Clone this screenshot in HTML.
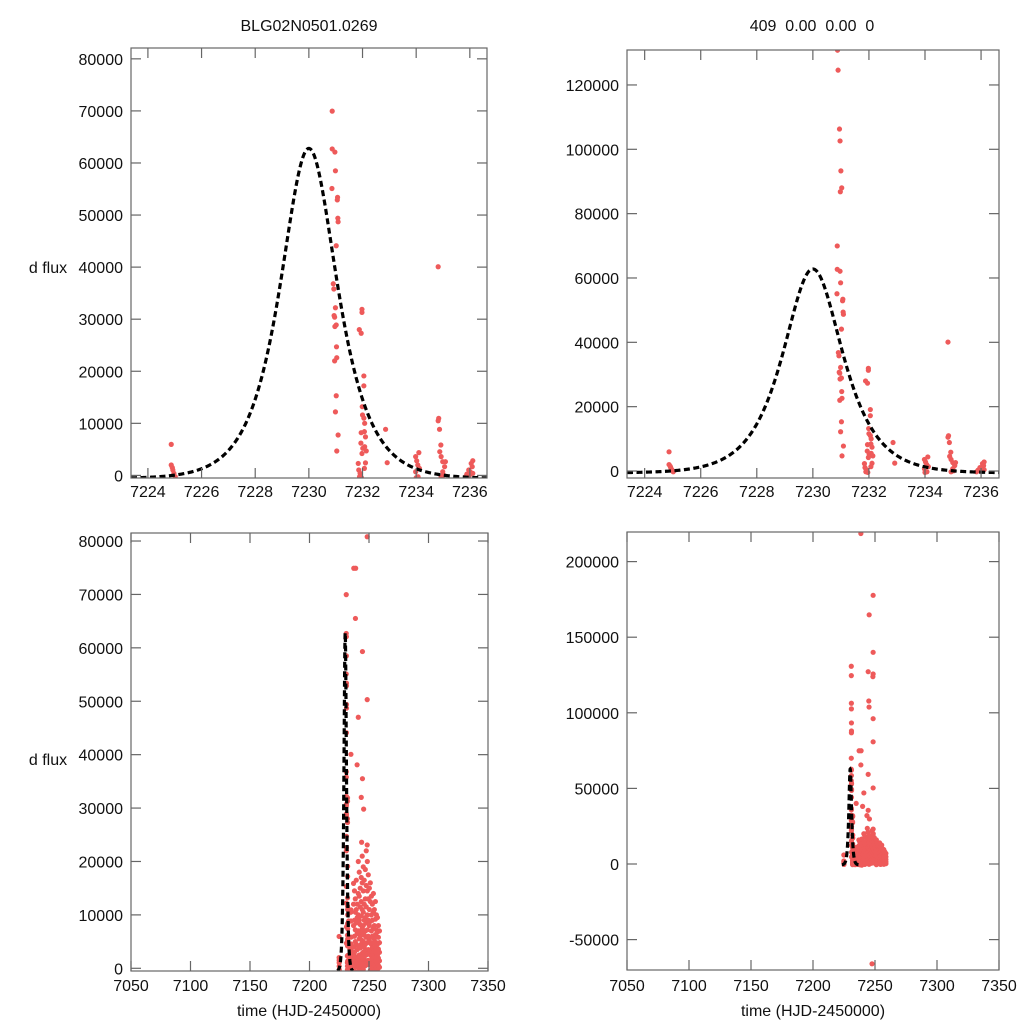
<!DOCTYPE html>
<html><head><meta charset="utf-8"><style>
html,body{margin:0;padding:0;background:#fff;width:1024px;height:1024px;overflow:hidden;}
svg{display:block;}
svg text{font-family:"Liberation Sans",sans-serif;font-size:16px;fill:#111;}
</style></head><body>
<svg id="chart" width="1024" height="1024" xmlns="http://www.w3.org/2000/svg">
<rect width="1024" height="1024" fill="#fff"/>
<text x="309" y="31" text-anchor="middle">BLG02N0501.0269</text>
<text x="812" y="31" text-anchor="middle" xml:space="preserve">409  0.00  0.00  0</text>
<text x="48" y="273" text-anchor="middle">d flux</text>
<text x="48" y="765" text-anchor="middle">d flux</text>
<text x="309" y="1016" text-anchor="middle">time (HJD-2450000)</text>
<text x="813" y="1016" text-anchor="middle">time (HJD-2450000)</text>
</svg>
<script>
// observations
const obsTime = [
7224.87,7224.87,7224.93,7224.97,7225.02,7224.91,
7230.88,7230.90,7230.95,7230.97,7231.00,7231.03,7230.98,
7230.87,7230.87,7230.97,7230.99,7230.86,7231.07,7231.06,7231.08,7231.09,7231.02,7230.91,7230.93,7230.99,7230.94,7230.96,7231.02,7230.97,7231.03,7231.04,7230.96,7231.02,7230.99,7231.09,7231.04,
7231.98,7231.98,7231.88,7231.95,7232.05,7232.05,7231.99,7232.00,7232.05,7232.08,7231.95,7232.07,7232.11,7231.94,7232.08,7232.01,7232.14,7231.98,7231.84,7232.11,7232.07,7231.86,7231.91,7231.89,7231.96,
7232.86,7232.92,
7234.10,7233.98,7234.02,7234.06,7234.12,7233.98,7234.07,7234.00,
7234.82,7234.84,7234.82,7234.87,7234.92,7234.88,7234.93,7234.99,7235.09,7235.06,7234.99,7234.93,7235.02,
7236.11,7236.05,7236.09,7235.96,7236.01,7235.89,7235.99,7235.84,7236.11,
7238.6,7248.5,7245.3,7248.5,7244.5,7248.5,7248.3,7245.0,7245.2,7248.5,7248.5,7237.2,7238.8,7238.6,7244.5,7248.5,7241.0,7240.0,7244.5,7243.5,7245.5,7243.8,7248.5,7247.6
];
const obsFlux = [
5960,2000,1040,400,-250,1500,
130800,124600,106300,102600,93300,88000,86800,
69960,62700,62100,58500,55100,53400,52900,49400,48700,44100,36800,35800,32200,30700,30400,28900,28600,24700,22600,22000,15300,12200,7760,4690,
31900,31300,28000,27300,19100,17200,13200,11600,11000,10000,8200,8400,7400,6200,5500,5200,4700,4200,2300,2400,1350,1040,400,-250,-440,
8850,2440,
4370,3600,2800,2000,1350,700,-250,-440,
40070,10950,10500,8850,5840,4550,3600,2630,2630,1670,700,-250,70,
2820,2300,1670,1040,700,250,70,-250,400,
218600,177700,164800,140000,127200,125700,123900,107800,103800,96100,80800,74900,74900,65500,59300,50300,47000,38100,35500,32000,29800,23600,23100,-66000
];
// dense post-peak baseline groups
const groupTime = [7237.0,7237.8,7238.5,7239.3,7240.1,7241.0,7241.8,7242.6,7243.5,7244.3,7245.2,7246.0,7246.9,7247.7,7248.6,7249.4,7250.3,7251.1,7252.0,7252.8,7253.7,7254.5,7255.4,7256.2,7257.1,7257.9,7258.8];
const groupFlux = [
[15900,12000,8000,4000,1500,500],
[14500,9000,6000,3000,800,-500],
[13000,10500,7200,5000,2200,300],
[16500,11000,8500,4500,1200,-800],
[12000,9500,6500,3500,2000,600],
[20000,14000,10000,7000,4200,1800,200],
[18000,13500,9000,5500,2500,900,-300],
[15000,11500,8200,6000,3800,1500],
[17000,12500,9800,6800,4500,2100,400],
[21000,16000,11000,7500,5200,2800,800],
[19000,14500,10500,8000,5000,3000,1000,-200],
[16500,12000,9000,6200,3900,1700],
[18500,13000,9500,7000,4500,2400,500],
[22000,15500,11500,8500,5800,3300,1200],
[20000,14500,10000,7200,4800,2600,700],
[17500,13000,9000,6000,3500,1500],
[15000,11000,8000,5200,3000,900],
[16000,12500,8800,5800,3200,1400,-400],
[13500,10000,7000,4500,2300,600],
[12000,9000,6000,3800,1800,200],
[14000,10500,7500,4800,2600,900],
[11000,8000,5500,3200,1500,-300],
[12500,9200,6300,4000,2000,500],
[10000,7200,4800,2800,1200],
[9500,6800,4500,2500,900,-200],
[8000,5800,3600,1900,500],
[7000,4800,3000,1400,200]
];
// model parameters
const modelPeakTime = 7230.0;
const modelPeakFlux = 63400;
const modelWidth = 0.95;
const modelBase = -600;
const modelRange = [7223.37, 7236.64];
// tick labels
const xTicksZoom = [7224,7226,7228,7230,7232,7234,7236];
const xTicksWide = [7050,7100,7150,7200,7250,7300,7350];
const yTicksTL = [0,10000,20000,30000,40000,50000,60000,70000,80000];
const yTicksTR = [0,20000,40000,60000,80000,100000,120000];
const yTicksBL = [0,10000,20000,30000,40000,50000,60000,70000,80000];
const yTicksBR = [-50000,0,50000,100000,150000,200000];

const NS = 'http://www.w3.org/2000/svg';
const svg = document.getElementById('chart');
function mk(tag, attrs, parent){
  const e = document.createElementNS(NS, tag);
  for (const k in attrs) e.setAttribute(k, attrs[k]);
  (parent||svg).appendChild(e); return e;
}
const allT = [], allF = [];
for (let i=0;i<obsTime.length;i++){allT.push(obsTime[i]);allF.push(obsFlux[i]);}
for (let g=0; g<groupTime.length; g++) for (const f of groupFlux[g]){allT.push(groupTime[g]);allF.push(f);}

const panels = [
 {name:'top-left', x0:131,x1:487,y0:48,y1:478, xmin:7223.37,xmax:7236.64, yAt0:475.4, yPx:52.07/10000, xt:xTicksZoom, yt:yTicksTL, labY:497},
 {name:'top-right', x0:627,x1:999,y0:50,y1:478, xmin:7223.37,xmax:7236.64, yAt0:471, yPx:32.17/10000, xt:xTicksZoom, yt:yTicksTR, labY:497},
 {name:'bottom-left', x0:131,x1:488,y0:533,y1:971, xmin:7050,xmax:7350, yAt0:968.3, yPx:53.41/10000, xt:xTicksWide, yt:yTicksBL, labY:991},
 {name:'bottom-right', x0:627,x1:999,y0:532,y1:970, xmin:7050,xmax:7350, yAt0:864, yPx:75.6/50000, xt:xTicksWide, yt:yTicksBR, labY:991}
];
panels.forEach((p,pi)=>{
  const sx = t => p.x0 + (t-p.xmin)/(p.xmax-p.xmin)*(p.x1-p.x0);
  const sy = f => p.yAt0 - f*p.yPx;
  const g = mk('g',{});
  
  
  const cp = mk('clipPath',{id:'clip'+pi}, g);
  mk('rect',{x:p.x0,y:p.y0,width:p.x1-p.x0,height:p.y1-p.y0}, cp);
  const pts = mk('g',{'clip-path':'url(#clip'+pi+')'}, g);
  
  
  for (let i=0;i<allT.length;i++){
    const c = mk('circle',{cx:sx(allT[i]).toFixed(2),cy:sy(allF[i]).toFixed(2),r:2.6,fill:'#ee5a5a'}, pts);
    
    
  }
  let d='';
  const N=400;
  for (let k=0;k<=N;k++){
    const t = modelRange[0] + (modelRange[1]-modelRange[0])*k/N;
    const u = (t-modelPeakTime)/modelWidth;
    const f = modelBase + modelPeakFlux*2/(Math.exp(u)+Math.exp(-u));
    d += (k?'L':'M')+sx(t).toFixed(2)+','+sy(f).toFixed(2);
  }
  const curve = mk('path',{d:d,fill:'none',stroke:'#000','stroke-width':3.2,'stroke-dasharray':'6 3.5','clip-path':'url(#clip'+pi+')'}, g);
  
  
  const fr = mk('rect',{x:p.x0,y:p.y0,width:p.x1-p.x0,height:p.y1-p.y0,fill:'none',stroke:'#666','stroke-width':1.2}, g);
  
  
  p.xt.forEach(v=>{
    const x = sx(v);
    mk('line',{x1:x,x2:x,y1:p.y1,y2:p.y1-10,stroke:'#666','stroke-width':1.2}, g);
    mk('line',{x1:x,x2:x,y1:p.y0,y2:p.y0+10,stroke:'#666','stroke-width':1.2}, g);
    const tx = mk('text',{x:x,y:p.labY,'text-anchor':'middle'}, g);
    tx.textContent = v;
    
    
  });
  p.yt.forEach(v=>{
    const y = sy(v);
    mk('line',{x1:p.x0,x2:p.x0+10,y1:y,y2:y,stroke:'#666','stroke-width':1.2}, g);
    mk('line',{x1:p.x1,x2:p.x1-10,y1:y,y2:y,stroke:'#666','stroke-width':1.2}, g);
    const ty = mk('text',{x:p.x0-8,y:y+6,'text-anchor':'end'}, g);
    ty.textContent = v;
    
    
  });
});
</script>
</body></html>
